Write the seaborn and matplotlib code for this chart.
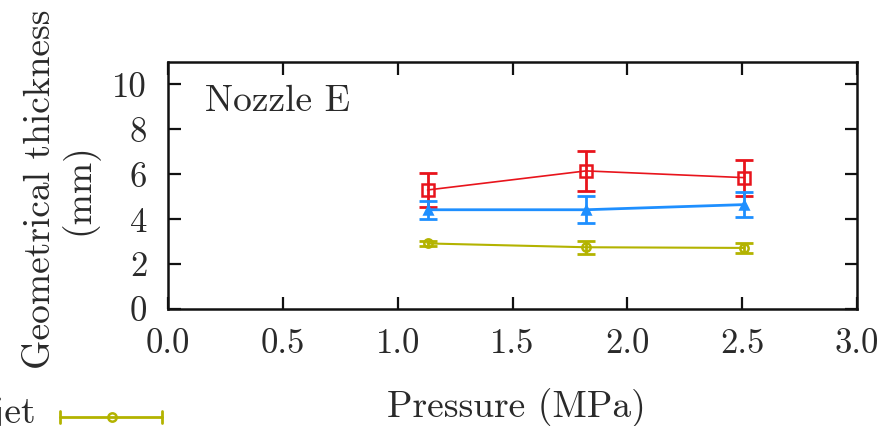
import matplotlib
matplotlib.use("Agg")
import matplotlib.pyplot as plt
from matplotlib.lines import Line2D
import pandas as pd
import seaborn as sns

# Pressure settings (MPa)
pressure = [1.13, 1.82, 2.51]

# Geometrical thickness (mm) and its spread, per series
red_thick = [5.3, 6.15, 5.85]
red_err = [0.75, 0.9, 0.8]
blue_thick = [4.42, 4.42, 4.65]
blue_err = [0.4, 0.6, 0.55]
olive_thick = [2.92, 2.75, 2.72]
olive_err = [0.1, 0.3, 0.22]

x_ticks = [0.0, 0.5, 1.0, 1.5, 2.0, 2.5, 3.0]
y_ticks = [0, 2, 4, 6, 8, 10]

RED = "#e8141c"
BLUE = "#1e8fff"
OLIVE = "#b3b300"
INK = "#2a2a2a"

sns.set_theme(style="ticks")
plt.rcParams["font.family"] = ["cmr10", "DejaVu Serif"]
plt.rcParams["mathtext.fontset"] = "cm"
plt.rcParams["axes.formatter.use_mathtext"] = True

fig = plt.figure(figsize=(8.89, 4.26), dpi=100)
W, H = 889, 426
ax = fig.add_axes([168 / W, 1 - 309 / H, (857 - 168) / W, (309 - 62) / H])

series = [
    ("red", red_thick, red_err, RED, "s", 9, 1.2, "none"),
    ("blue", blue_thick, blue_err, BLUE, "^", 6, 2.0, BLUE),
    ("olive", olive_thick, olive_err, OLIVE, "o", 6, 1.5, "none"),
]

for name, vals, errs, col, mk, ms, lw, mfc in series:
    df = pd.DataFrame({"p": pressure, "t": vals})
    sns.lineplot(data=df, x="p", y="t", ax=ax, color=col, lw=lw,
                 marker=mk, markersize=ms, markerfacecolor=mfc,
                 markeredgecolor=col, markeredgewidth=1.8, zorder=3)
    ax.errorbar(pressure, vals, yerr=errs, fmt="none", ecolor=col,
                elinewidth=2.0, capsize=6.5, capthick=2.0, zorder=3)

ax.set_xlim(0, 3)
ax.set_ylim(0, 11)
ax.set_xticks(x_ticks)
ax.set_xticklabels([f"{v:.1f}" for v in x_ticks])
ax.set_yticks(y_ticks)
ax.set_yticklabels([str(v) for v in y_ticks])
ax.set_xlabel("")
ax.set_ylabel("")

for s in ax.spines.values():
    s.set_visible(True)
    s.set_linewidth(1.8)
    s.set_color("#111111")

ax.tick_params(axis="both", direction="in", length=9, width=1.6,
               color="#111111", labelsize=25, labelcolor=INK,
               top=True, right=True)
ax.tick_params(axis="x", pad=14)
ax.tick_params(axis="y", pad=15)

fig.text(205 / W, 1 - 111 / H, "Nozzle E", fontsize=27, color=INK,
         ha="left", va="baseline")

fig.text(516 / W, 1 - 417 / H, "Pressure (MPa)", fontsize=27, color=INK,
         ha="center", va="baseline")
fig.text(61 / W, 1 - 189 / H, "Geometrical thickness\n(mm)", fontsize=27,
         color=INK, rotation=90, ha="center", va="center",
         multialignment="center", linespacing=1.1)

# Key entry for the jet series, partly running off the left edge
ky = 1 - 417 / H
fig.text(35.5 / W, 1 - 423 / H, "Liquid jet", fontsize=27, color=INK,
         ha="right", va="baseline")
fig.add_artist(Line2D([60 / W, 162 / W], [ky, ky], color=OLIVE, lw=2.0,
                      transform=fig.transFigure))
for xe in (60, 162):
    fig.add_artist(Line2D([xe / W, xe / W], [ky - 6 / H, ky + 6 / H],
                          color=OLIVE, lw=2.0, transform=fig.transFigure))
fig.add_artist(Line2D([112 / W], [ky], marker="o", markersize=6,
                      markerfacecolor="none", markeredgecolor=OLIVE,
                      markeredgewidth=1.8, transform=fig.transFigure))

fig.savefig("out.png", dpi=100)
